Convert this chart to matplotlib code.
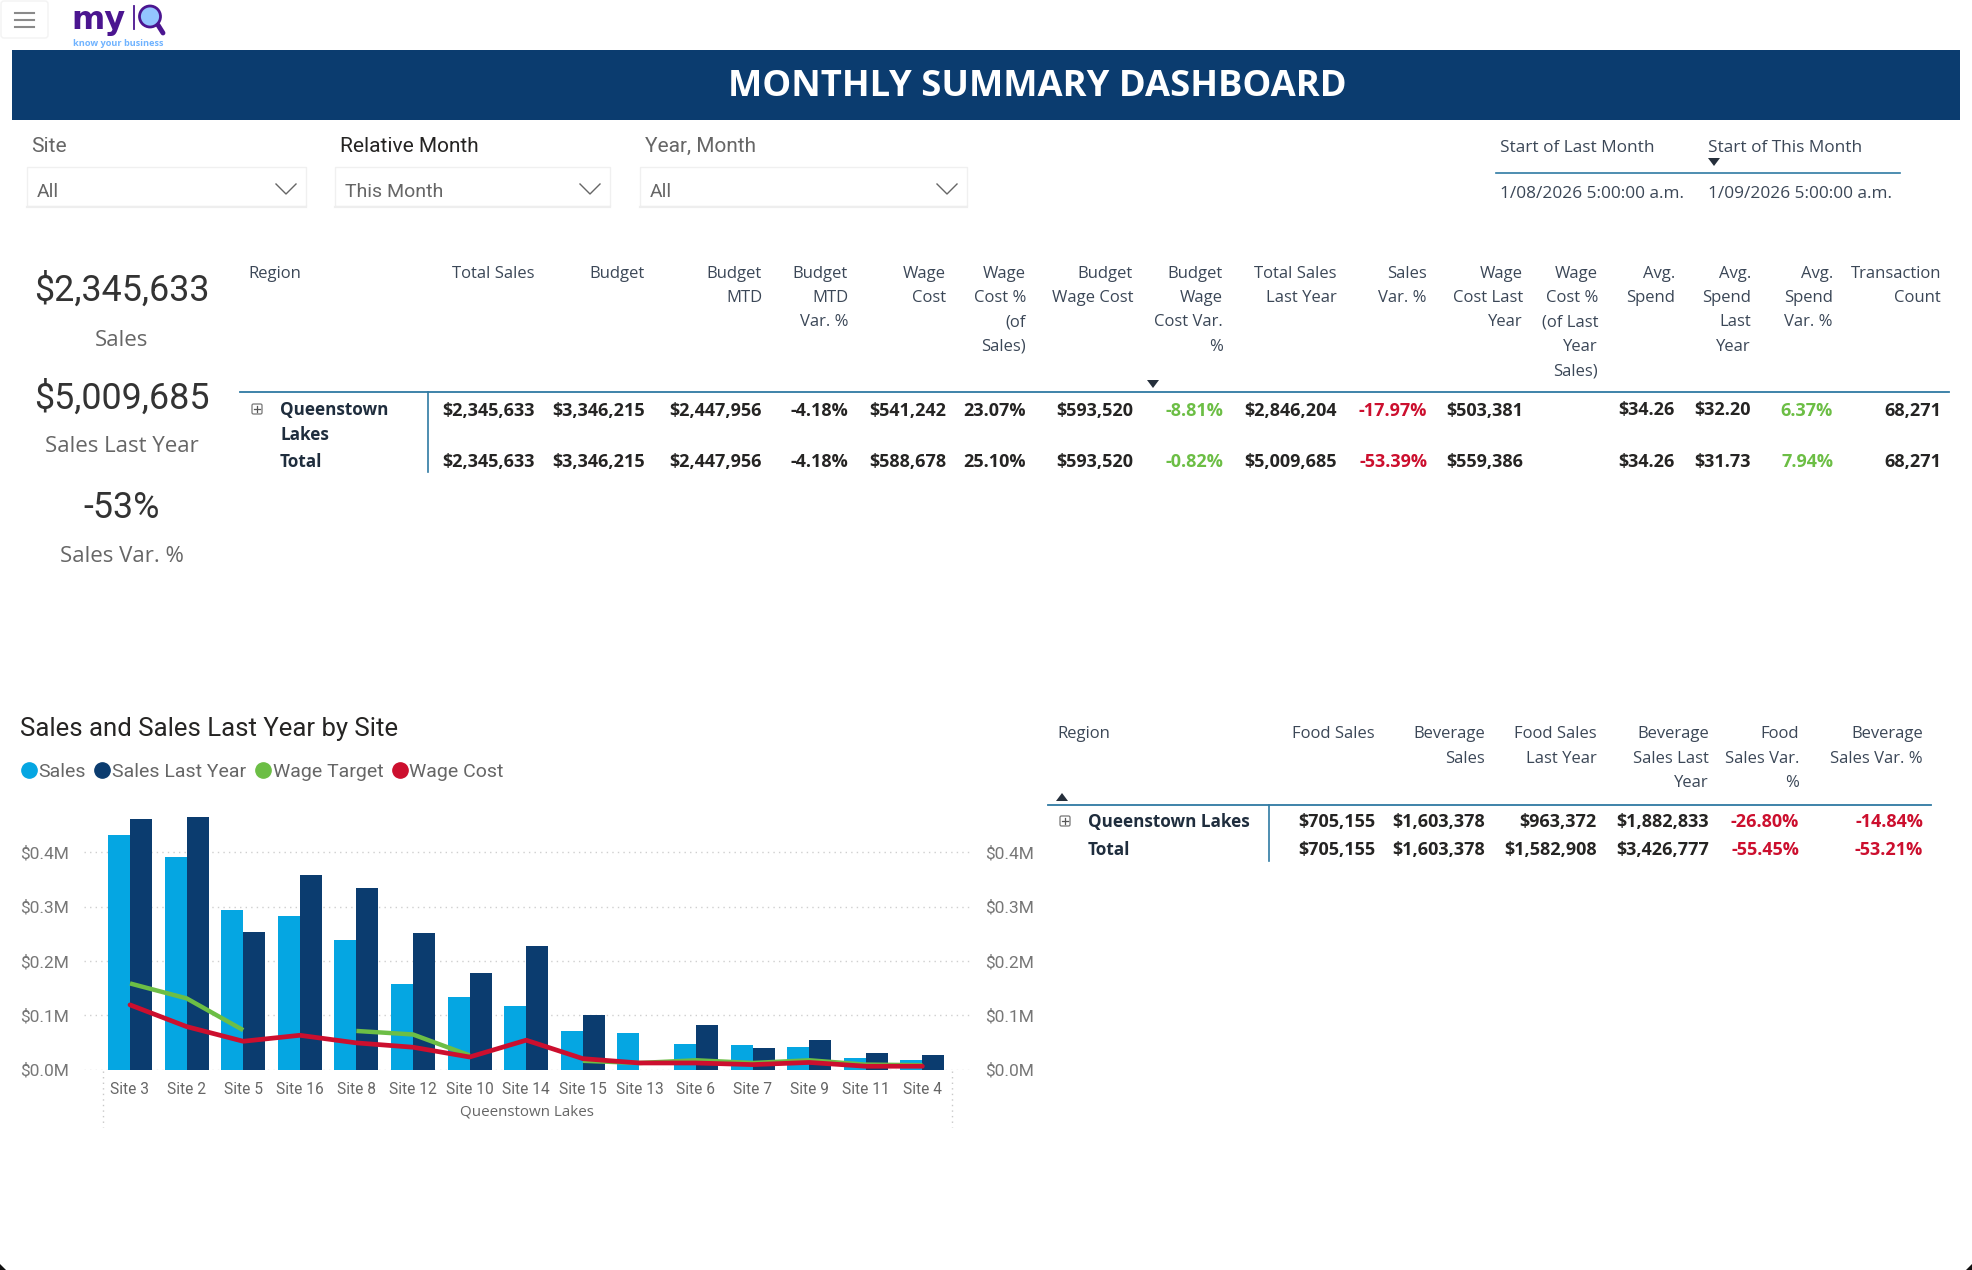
import matplotlib
matplotlib.use('Agg')
import matplotlib.pyplot as plt
from matplotlib.lines import Line2D
from matplotlib.patches import Circle, FancyBboxPatch, Polygon, Rectangle
from matplotlib.ticker import FuncFormatter

W, H = 1972, 1270

# chart data ($M)
sites = ['Site 3', 'Site 2', 'Site 5', 'Site 16', 'Site 8', 'Site 12', 'Site 10', 'Site 14',
         'Site 15', 'Site 13', 'Site 6', 'Site 7', 'Site 9', 'Site 11', 'Site 4']
sales = [0.432, 0.391, 0.294, 0.282, 0.238, 0.157, 0.133, 0.117, 0.070, 0.068, 0.047, 0.046, 0.041, 0.021, 0.018]
sales_last_year = [0.461, 0.465, 0.2525, 0.358, 0.334, 0.251, 0.177, 0.227, 0.0995, 0, 0.082, 0.040, 0.0535, 0.031, 0.026]
wage_target = [0.1585, 0.131, 0.0725, None, 0.071, 0.0645, 0.026, None, 0.016, 0.012, 0.017, 0.012, 0.017, 0.009, 0.008]
wage_cost = [0.119, 0.079, 0.052, 0.063, 0.049, 0.041, 0.023, 0.054, 0.020, 0.012, 0.012, 0.009, 0.013, 0.006, 0.006]
y_ticks = [0.0, 0.1, 0.2, 0.3, 0.4]

# main table
main_headers = [['Total Sales'], ['Budget'], ['Budget', 'MTD'], ['Budget', 'MTD', 'Var. %'], ['Wage', 'Cost'],
                ['Wage', 'Cost %', '(of', 'Sales)'], ['Budget', 'Wage Cost'], ['Budget', 'Wage', 'Cost Var.', '%'],
                ['Total Sales', 'Last Year'], ['Sales', 'Var. %'], ['Wage', 'Cost Last', 'Year'],
                ['Wage', 'Cost %', '(of Last', 'Year', 'Sales)'], ['Avg.', 'Spend'], ['Avg.', 'Spend', 'Last', 'Year'],
                ['Avg.', 'Spend', 'Var. %'], ['Transaction', 'Count']]
main_row1 = ['$2,345,633', '$3,346,215', '$2,447,956', '-4.18%', '$541,242', '23.07%', '$593,520', '-8.81%',
             '$2,846,204', '-17.97%', '$503,381', '', '$34.26', '$32.20', '6.37%', '68,271']
main_total = ['$2,345,633', '$3,346,215', '$2,447,956', '-4.18%', '$588,678', '25.10%', '$593,520', '-0.82%',
              '$5,009,685', '-53.39%', '$559,386', '', '$34.26', '$31.73', '7.94%', '68,271']
main_right = [535, 645, 762, 848, 946, 1026, 1133, 1223, 1337, 1427, 1523, 1598, 1675, 1751, 1833, 1941]
main_green = [7, 14]
main_red = [9]

# food and beverage table
fb_headers = [['Food Sales'], ['Beverage', 'Sales'], ['Food Sales', 'Last Year'], ['Beverage', 'Sales Last', 'Year'],
              ['Food', 'Sales Var.', '%'], ['Beverage', 'Sales Var. %']]
fb_row1 = ['$705,155', '$1,603,378', '$963,372', '$1,882,833', '-26.80%', '-14.84%']
fb_total = ['$705,155', '$1,603,378', '$1,582,908', '$3,426,777', '-55.45%', '-53.21%']
fb_right = [1375, 1485, 1597, 1709, 1799, 1923]
fb_red = [4, 5]

# cards
kpi_values = ['$2,345,633', '$5,009,685', '-53%']
kpi_labels = ['Sales', 'Sales Last Year', 'Sales Var. %']

# slicers
slicer_names = ['Site', 'Relative Month', 'Year, Month']
slicer_values = ['All', 'This Month', 'All']

date_headers = ['Start of Last Month', 'Start of This Month']
date_values = ['1/08/2026 5:00:00 a.m.', '1/09/2026 5:00:00 a.m.']

NAVY = '#0B3C6F'
BLUE = '#05A6E2'
GREEN = '#6CBE45'
RED = '#CC0F2E'
RULE = '#2F7AA3'
HEAD = '#3B4757'
BODY = '#252423'
GRAY = '#666666'
SEGOE = 'Open Sans'
DIN = 'Roboto'

fig = plt.figure(figsize=(W / 100, H / 100), dpi=100, facecolor='white')

# page layer in pixel coordinates, everything that is not the chart goes here
page = fig.add_axes([0, 0, 1, 1])
page.set_xlim(0, W)
page.set_ylim(H, 0)
page.axis('off')


def txt(x, y, s, size=12, color=BODY, ha='left', weight='normal', family=SEGOE):
    # va center sits a bit high for these fonts
    page.text(x, y + 2, s, fontsize=size, color=color, ha=ha, va='center', fontweight=weight, family=family)


def tri(x, y, up=True):
    d = -4 if up else 4
    page.add_patch(Polygon([(x - 6, y - d), (x + 6, y - d), (x, y + d)], color='#252F3B', lw=0))


def plus_icon(x, y):
    page.add_patch(FancyBboxPatch((x - 5, y - 5), 10, 10, boxstyle='round,pad=0,rounding_size=1.5',
                                  fc='white', ec='#777777', lw=0.9))
    page.plot([x - 3, x + 3], [y, y], color='#555555', lw=0.9)
    page.plot([x, x], [y - 3, y + 3], color='#555555', lw=0.9)


# hamburger and logo
page.add_patch(FancyBboxPatch((1, 1), 47, 37, boxstyle='round,pad=0,rounding_size=3', fc='white', ec='#F3F3F3', lw=1))
for yy in [13, 20, 27]:
    page.plot([15, 34], [yy, yy], color='#8A8A8A', lw=1.5)
page.text(71, 29, 'my', fontsize=23, fontweight='bold', color='#4B1590', family='DejaVu Sans', va='baseline')
page.plot([134, 134], [6, 29], color='#4B1590', lw=1.3)
page.plot([158, 163], [25, 33], color='#4B1590', lw=3.5, solid_capstyle='round')
page.add_patch(Circle((150, 16.5), 10.5, fc='#93C5FF', ec='#4B1590', lw=2))
txt(73, 41, 'know your business', size=6.6, color='#6FB3FF', weight='bold')

# title band
page.add_patch(Rectangle((12, 50), 1948, 70, color=NAVY, lw=0))
txt(1037, 85.5, 'MONTHLY SUMMARY DASHBOARD', size=26.2, color='white', ha='center', weight='bold')

# slicers
slicer_x = [(27, 306), (335, 610), (640, 967)]
name_x = [31, 340, 645]
name_color = [GRAY, BODY, GRAY]
for i in range(3):
    x0, x1 = slicer_x[i]
    txt(name_x[i], 144, slicer_names[i], size=15, color=name_color[i], family=DIN)
    page.add_patch(Rectangle((x0, 167), x1 - x0, 39, fc='white', ec='#F0F0F0', lw=1))
    page.plot([x0, x1], [206.5, 206.5], color='#EEEEEE', lw=1.6)
    txt(x0 + 10, 190, slicer_values[i], size=14, color=GRAY, family=DIN)
    page.plot([x1 - 30, x1 - 20, x1 - 10], [184, 194, 184], color='#666666', lw=1)

# start dates
date_x = [1500, 1708]
for i in range(2):
    txt(date_x[i], 146.5, date_headers[i], size=12.4, color=HEAD)
    txt(date_x[i], 192, date_values[i], size=12.4, color=HEAD)
page.plot([1496, 1900], [173, 173], color=RULE, lw=1.2)
tri(1714, 162, up=False)

# cards
kpi_y = [289, 397, 506]
label_y = [338, 445, 554]
for i in range(3):
    txt(122, kpi_y[i], kpi_values[i], size=25.8, color='#333333', ha='center', family=DIN)
    txt(122, label_y[i], kpi_labels[i], size=16, color=GRAY, ha='center')


def draw_table(headers, rows, right, top, row_y, reds, greens):
    for j, lines in enumerate(headers):
        for k, line in enumerate(lines):
            txt(right[j], top + k * 24.4, line, size=12, color=HEAD, ha='right')
    for r, row in enumerate(rows):
        for j, val in enumerate(row):
            col = RED if j in reds else GREEN if j in greens else BODY
            txt(right[j], row_y[r], val, size=13, color=col, ha='right', weight='bold')


# main table
txt(248, 271.5, 'Region', size=12, color=HEAD)
draw_table(main_headers, [main_row1, main_total], main_right, 271.5, [408.5, 460], main_red, main_green)
page.plot([240, 1949], [392, 392], color=RULE, lw=1.3)
page.plot([428, 428], [392, 472], color=RULE, lw=1.2)
plus_icon(257, 409)
txt(280, 408.5, 'Queenstown', size=12.3, color='#1F2D3D', weight='bold')
txt(280, 432.5, 'Lakes', size=12.3, color='#1F2D3D', weight='bold')
txt(280, 460, 'Total', size=12.3, color='#1F2D3D', weight='bold')
tri(1153, 384, up=False)

# food and beverage table
txt(1057, 732.5, 'Region', size=12, color=HEAD)
draw_table(fb_headers, [fb_row1, fb_total], fb_right, 732.5, [820, 848], fb_red, [])
page.plot([1048, 1931], [805, 805], color=RULE, lw=1.3)
page.plot([1268.5, 1268.5], [805, 861], color=RULE, lw=1.2)
plus_icon(1065, 821)
txt(1088, 820, 'Queenstown Lakes', size=12.3, color='#1F2D3D', weight='bold')
txt(1088, 848, 'Total', size=12.3, color='#1F2D3D', weight='bold')
tri(1062, 797, up=True)

# chart title and hierarchy axis decoration
txt(20, 727, 'Sales and Sales Last Year by Site', size=18.5, color=BODY, family=DIN)
txt(527, 1109.5, 'Queenstown Lakes', size=10.9, color=GRAY, ha='center')
for xx in [102.5, 952]:
    page.plot([xx, xx], [1071, 1127], color='#C8C8C8', lw=1, ls=(0, (1, 3)))

# window corners
page.add_patch(Polygon([(0, H), (0, H - 6), (6, H)], color='#111111', lw=0))
page.add_patch(Polygon([(W, H), (W, H - 6), (W - 6, H)], color='#111111', lw=0))

# chart
left, right, top, bottom = 84, 971, 800, 1069.5
ax = fig.add_axes([left / W, 1 - bottom / H, (right - left) / W, (bottom - top) / H])
ax.patch.set_alpha(0)
pos = list(range(len(sites)))
bw = 22 / 56.6
ax.bar([p - bw / 2 for p in pos], sales, bw, color=BLUE, zorder=2)
ax.bar([p + bw / 2 for p in pos], sales_last_year, bw, color=NAVY, zorder=2)
ty = [float('nan') if v is None else v for v in wage_target]
ax.plot(pos, ty, color=GREEN, lw=3.2, zorder=3, solid_capstyle='butt')
ax.plot(pos, wage_cost, color=RED, lw=3.4, zorder=4, solid_capstyle='round')

ax.set_xlim((left - 130) / 56.6, (right - 130) / 56.6)
ax.set_ylim(0, (bottom - top) / 543)
ax.set_xticks(pos)
ax.set_xticklabels(sites, fontsize=11.2, color=GRAY, family=DIN)
ax.set_yticks(y_ticks)
ax.yaxis.set_major_formatter(FuncFormatter(lambda v, p: f'${v:.1f}M'))
ax.tick_params(axis='x', length=0, pad=8.8)
ax.tick_params(axis='y', length=0, pad=10.5, labelsize=12.5, labelcolor='#777777', labelleft=True, labelright=True)
for lab in ax.get_yticklabels():
    lab.set_family(DIN)
ax.grid(axis='y', color='#CFCFCF', lw=1, ls=(0, (1, 3)), zorder=0)
for s in ax.spines.values():
    s.set_visible(False)

handles = [Line2D([], [], marker='o', ls='', ms=11, color=c) for c in [BLUE, NAVY, GREEN, RED]]
leg = fig.legend(handles, ['Sales', 'Sales Last Year', 'Wage Target', 'Wage Cost'], ncols=4, frameon=False,
                 loc='center left', bbox_to_anchor=(17 / W, 1 - 772 / H), handletextpad=-0.1,
                 columnspacing=0.25, handlelength=1.2, prop={'family': DIN, 'size': 14}, borderpad=0, borderaxespad=0)
for t in leg.get_texts():
    t.set_color(GRAY)

fig.savefig('out.png', dpi=100, facecolor='white')
